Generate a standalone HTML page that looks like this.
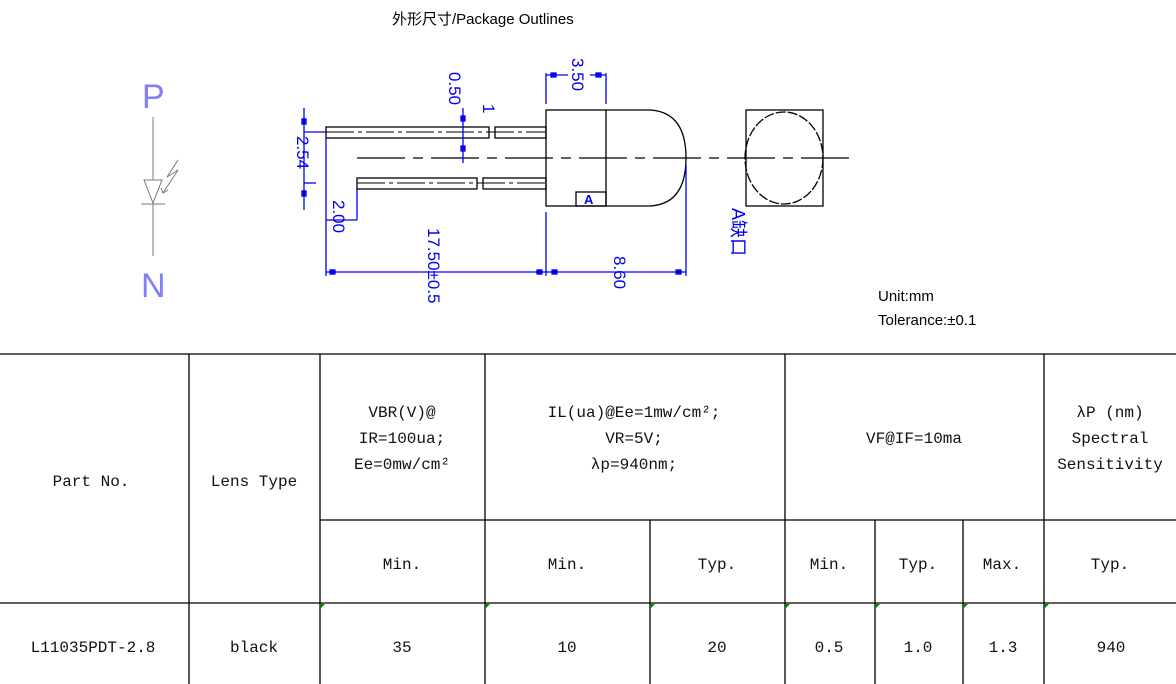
<!DOCTYPE html>
<html><head><meta charset="utf-8"><style>
body{margin:0;width:1176px;height:684px;background:#fff;overflow:hidden}
svg{display:block}
.t{font-family:"Liberation Mono","Noto Serif CJK SC",monospace;font-size:16px;fill:#111;text-anchor:middle}
.b{font-family:"Liberation Sans","Noto Sans CJK SC",sans-serif;font-size:16px;fill:#0000ee}
</style></head><body>
<svg width="1176" height="684" viewBox="0 0 1176 684" xmlns="http://www.w3.org/2000/svg">
<text x="392" y="24" style="font-family:'Liberation Sans','Noto Sans CJK SC',sans-serif;font-size:15px" fill="#000">外形尺寸/Package Outlines</text>
<text x="878" y="301" style="font-family:'Liberation Sans',sans-serif;font-size:15px" fill="#000">Unit:mm</text>
<text x="878" y="325" style="font-family:'Liberation Sans','Noto Sans CJK SC',sans-serif;font-size:15px" fill="#000">Tolerance:±0.1</text>

<!-- schematic -->
<g stroke="#777" fill="none" stroke-width="1">
<line x1="153" y1="117" x2="153" y2="256"/>
<polygon points="144,180 162,180 153,203" fill="#fff"/>
<line x1="141" y1="204" x2="165" y2="204"/>
<polyline points="178,160 167,177 178,170 163,193"/>
<polyline points="161,188 163,193 168,190"/>
</g>
<text x="142" y="108" style="font-family:'Liberation Sans',sans-serif;font-size:34px;font-weight:normal" fill="#8080ff">P</text>
<text x="141" y="297" style="font-family:'Liberation Sans',sans-serif;font-size:34px" fill="#8080ff">N</text>

<!-- LED drawing -->
<g stroke="#000" fill="none" stroke-width="1.3">
<rect x="326" y="127" width="163" height="11" fill="#fff"/>
<rect x="495" y="127" width="51" height="11" fill="#fff"/>
<rect x="357" y="178" width="120" height="11" fill="#fff"/>
<rect x="483" y="178" width="63" height="11" fill="#fff"/>
<line x1="326" y1="132" x2="546" y2="132" stroke-dasharray="28,4,4,4" stroke-width="1"/>
<line x1="357" y1="183" x2="546" y2="183" stroke-dasharray="28,4,4,4" stroke-width="1"/>
<rect x="546" y="110" width="60" height="96"/>
<path d="M606 110 H650 Q686 112 686 158 Q686 204 650 206 H606"/>
<rect x="576" y="192" width="30" height="14"/>
<line x1="357" y1="158" x2="850" y2="158" stroke-dasharray="48,8,10,8"/>
<rect x="746" y="110" width="77" height="96"/>
<ellipse cx="784" cy="158" rx="39" ry="46" stroke-dasharray="10,2"/>
</g>
<text x="584" y="204" style="font-family:'Liberation Sans',sans-serif;font-size:13px;font-weight:bold" fill="#0000ee">A</text>

<g stroke="#0000ee" stroke-width="1.3" fill="#0000ee">
<line x1="546" y1="73" x2="546" y2="104"/><line x1="606" y1="73" x2="606" y2="104"/>
<line x1="546" y1="75" x2="568" y2="75"/><line x1="590" y1="75" x2="606" y2="75"/>
<line x1="463" y1="108" x2="463" y2="163"/>
<line x1="304" y1="108" x2="304" y2="210"/>
<line x1="304" y1="132" x2="326" y2="132"/>
<line x1="304" y1="183" x2="316" y2="183"/>
<line x1="357" y1="189" x2="357" y2="220"/><line x1="326" y1="220" x2="357" y2="220"/>
<line x1="326" y1="138" x2="326" y2="276"/>
<line x1="326" y1="272" x2="546" y2="272"/>
<line x1="546" y1="212" x2="546" y2="276"/>
<line x1="546" y1="272" x2="686" y2="272"/>
<line x1="686" y1="165" x2="686" y2="276"/>
<rect x="551" y="73" width="5" height="4"/><rect x="596" y="73" width="5" height="4"/>
<rect x="461" y="116" width="4" height="5"/><rect x="461" y="146" width="4" height="5"/>
<rect x="302" y="119" width="4" height="5"/><rect x="302" y="191" width="4" height="5"/>
<rect x="330" y="270" width="5" height="4"/><rect x="537" y="270" width="5" height="4"/>
<rect x="552" y="270" width="5" height="4"/><rect x="676" y="270" width="5" height="4"/>
</g>
<g class="b" style="font-size:17px">
<text transform="translate(572,58) rotate(90)">3.50</text>
<text transform="translate(449,72) rotate(90)">0.50</text>
<text transform="translate(483,104) rotate(90)">1</text>
<text transform="translate(297,136) rotate(90)">2.54</text>
<text transform="translate(333,200) rotate(90)">2.00</text>
<text transform="translate(428,228) rotate(90)">17.50±0.5</text>
<text transform="translate(614,256) rotate(90)">8.60</text>
<text transform="translate(732,208) rotate(90)" style="font-size:18px">A缺口</text>
</g>

<!-- table -->
<g stroke="#000" stroke-width="1.3">
<line x1="0" y1="354" x2="1176" y2="354"/>
<line x1="320" y1="520" x2="1176" y2="520"/>
<line x1="0" y1="603" x2="1176" y2="603"/>
<line x1="189" y1="354" x2="189" y2="684"/>
<line x1="320" y1="354" x2="320" y2="684"/>
<line x1="485" y1="354" x2="485" y2="684"/>
<line x1="650" y1="520" x2="650" y2="684"/>
<line x1="785" y1="354" x2="785" y2="684"/>
<line x1="875" y1="520" x2="875" y2="684"/>
<line x1="963" y1="520" x2="963" y2="684"/>
<line x1="1044" y1="354" x2="1044" y2="684"/>
</g>
<g fill="#008000">
<polygon points="320,604 325,604 320,609"/><polygon points="485,604 490,604 485,609"/><polygon points="650,604 655,604 650,609"/>
<polygon points="785,604 790,604 785,609"/><polygon points="875,604 880,604 875,609"/><polygon points="963,604 968,604 963,609"/><polygon points="1044,604 1049,604 1044,609"/>
</g>
<g class="t">
<text x="91" y="486">Part No.</text>
<text x="254" y="486">Lens Type</text>
<text x="402" y="417">VBR(V)@</text>
<text x="402" y="443">IR=100ua;</text>
<text x="402" y="469">Ee=0mw/cm²</text>
<text x="634" y="417">IL(ua)@Ee=1mw/cm²;</text>
<text x="634" y="443">VR=5V;</text>
<text x="634" y="469">λp=940nm;</text>
<text x="914" y="443">VF@IF=10ma</text>
<text x="1110" y="417">λP (nm)</text>
<text x="1110" y="443">Spectral</text>
<text x="1110" y="469">Sensitivity</text>
<text x="402" y="569">Min.</text>
<text x="567" y="569">Min.</text>
<text x="717" y="569">Typ.</text>
<text x="829" y="569">Min.</text>
<text x="918" y="569">Typ.</text>
<text x="1002" y="569">Max.</text>
<text x="1110" y="569">Typ.</text>
<text x="93" y="652">L11035PDT-2.8</text>
<text x="254" y="652">black</text>
<text x="402" y="652">35</text>
<text x="567" y="652">10</text>
<text x="717" y="652">20</text>
<text x="829" y="652">0.5</text>
<text x="918" y="652">1.0</text>
<text x="1003" y="652">1.3</text>
<text x="1111" y="652">940</text>
</g>
</svg>
</body></html>
